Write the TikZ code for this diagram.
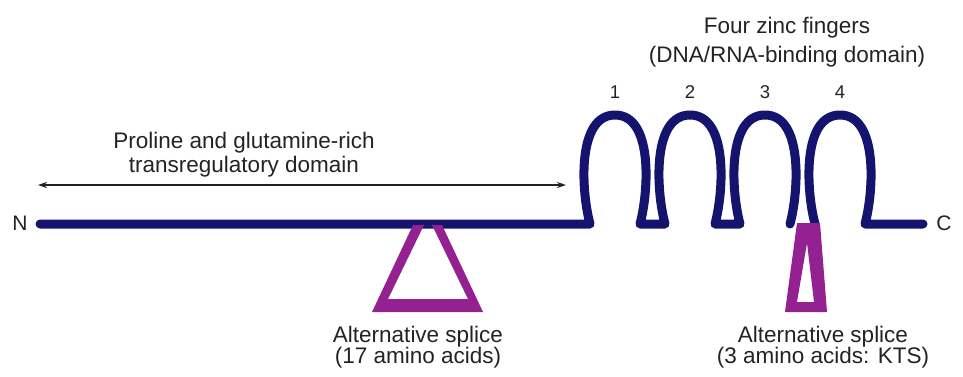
\documentclass[tikz,border=0pt]{standalone}
\usepackage{fontspec}
\setmainfont{Liberation Sans}
\usetikzlibrary{arrows.meta}
\definecolor{chain}{RGB}{20,20,110}
\definecolor{splice}{RGB}{148,33,145}
\definecolor{ink}{RGB}{35,35,35}

\begin{document}
\begin{tikzpicture}[x=1pt,y=-1pt,
  lbl/.style={text=ink, inner sep=0pt, align=center, anchor=base,
    font=\fontsize{22.5}{21}\selectfont},
  endlbl/.style={text=ink, inner sep=0pt, font=\fontsize{21}{21}\selectfont},
  numlbl/.style={text=ink, inner sep=0pt, anchor=base, font=\fontsize{18.5}{18.5}\selectfont},
  backbone/.style={draw=chain, line width=9pt, line cap=round, line join=round},
  spliceshape/.style={fill=splice, even odd rule},
  span/.style={draw=ink, line width=1.5pt,
    {Stealth[length=9pt,width=6pt]}-{Stealth[length=9pt,width=6pt]}}]
\useasboundingbox (0,0) rectangle (963,376);

% protein backbone with zinc fingers 1-3
\path[backbone] (40,224) -- (590,224)
  .. controls (581,190) and (577,115) .. (615,115)
  .. controls (653,115) and (649,190) .. (640,224) -- (665,224)
  .. controls (656,190) and (652,115) .. (690,115)
  .. controls (728,115) and (724,190) .. (715,224) -- (740,224)
  .. controls (731,190) and (727,115) .. (765,115)
  .. controls (803,115) and (799,190) .. (790,224);
% zinc finger 4 and C-terminal tail
\path[backbone] (815,224)
  .. controls (806,190) and (802,115) .. (840,115)
  .. controls (878,115) and (874,190) .. (865,224) -- (923,224);

% alternative splice sites
\path[spliceshape] (413,225) -- (372,312) -- (483,312) -- (442,225) -- cycle
  (424,225) -- (388,299) -- (468,299) -- (432,225) -- cycle;
\path[spliceshape] (797,223) -- (785,312) -- (827,312) -- (820,223) -- cycle
  (807,243) -- (797,302) -- (814,302) -- cycle;

% termini
\node[endlbl] (nterm) at (20,223) {N};
\node[endlbl] (cterm) at (944,223) {C};

% finger numbers
\node[numlbl] (f1) at (615,98) {1};
\node[numlbl] (f2) at (690,98) {2};
\node[numlbl] (f3) at (765,98) {3};
\node[numlbl] (f4) at (840,98) {4};

% domain labels (base anchor sits on the last line)
\node[lbl, font=\fontsize{22.5}{29}\selectfont] (zf) at (787,62)
  {Four zinc fingers\\(DNA/RNA-binding domain)};
\node[lbl, font=\fontsize{22.5}{24}\selectfont] (pq) at (244,172)
  {Proline and glutamine-rich\\transregulatory domain};
\coordinate (spanL) at (38,185);
\coordinate (spanR) at (566,185);
\draw[span] (spanL) -- (spanR);

\node[lbl] (as17) at (418,363) {Alternative splice\\(17 amino acids)};
\node[lbl] (kts) at (823,363) {Alternative splice\\(3 amino acids: KTS)};
\end{tikzpicture}
\end{document}
